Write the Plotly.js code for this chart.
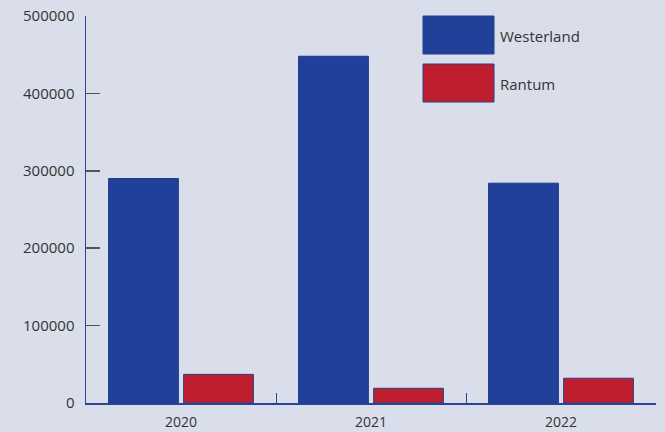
<!DOCTYPE html>
<html>
<head>
<meta charset="utf-8">
<script src="https://cdn.plot.ly/plotly-3.0.1.min.js"></script>
<style>
  html, body { margin: 0; padding: 0; background: #dadeeb; }
  #chart { width: 665px; height: 432px; }
</style>
</head>
<body>
<div id="chart"></div>
<script>
// Years on the x axis
const years = ['2020', '2021', '2022'];

// Series values
const westerland = [290000, 448000, 284000];
const rantum = [37000, 19000, 32000];

const seriesNames = ['Westerland', 'Rantum'];
const seriesColors = ['#21409a', '#be1e2d'];

const yTicks = [0, 100000, 200000, 300000, 400000, 500000];

const traces = [
    {
        type: 'bar',
        x: years,
        y: westerland,
        name: seriesNames[0],
        marker: { color: seriesColors[0], line: { color: '#1d3a8a', width: 1 } },
        showlegend: false
    },
    {
        type: 'bar',
        x: years,
        y: rantum,
        name: seriesNames[1],
        marker: { color: seriesColors[1], line: { color: '#2a3f8f', width: 1 } },
        showlegend: false
    }
];

// Legend drawn by hand: big swatches like the original
const shapes = [];
const annotations = [];
seriesNames.forEach((name, i) => {
    const top = 1 - i * 48 / 387;
    shapes.push({
        type: 'rect', xref: 'paper', yref: 'paper',
        x0: (423 - 86) / 570, x1: (494 - 86) / 570,
        y0: top - 38 / 387, y1: top,
        fillcolor: seriesColors[i],
        line: { color: '#2a3f8f', width: 1 }
    });
    annotations.push({
        xref: 'paper', yref: 'paper',
        x: (498 - 86) / 570, y: top - 20 / 387,
        xanchor: 'left', yanchor: 'middle',
        text: name, showarrow: false,
        font: { size: 15, color: '#333333' }
    });
});

const layout = {
    width: 665,
    height: 432,
    paper_bgcolor: '#dadeeb',
    plot_bgcolor: '#dadeeb',
    font: { family: '"Open Sans", Lato, sans-serif', size: 14, color: '#333333' },
    margin: { l: 86, r: 9, t: 16, b: 29 },
    barmode: 'group',
    bargap: 0.21,
    bargroupgap: 0.07,
    xaxis: {
        type: 'category',
        showline: true,
        linecolor: '#2a4595',
        linewidth: 1.5,
        ticks: 'inside',
        tickson: 'boundaries',
        ticklen: 10,
        tickcolor: '#2a4595',
        tickwidth: 1,
        showgrid: false,
        zeroline: false,
        ticklabelstandoff: 6,
        tickfont: { size: 14 }
    },
    yaxis: {
        range: [0, 500000],
        tickvals: yTicks,
        ticktext: yTicks.map(String),
        showline: true,
        linecolor: '#2a4595',
        linewidth: 1.5,
        ticks: 'inside',
        ticklen: 14,
        tickcolor: '#555555',
        tickwidth: 1.5,
        showgrid: false,
        zeroline: false,
        ticklabelstandoff: 7,
        tickfont: { size: 15 }
    },
    shapes: shapes,
    annotations: annotations
};

Plotly.newPlot('chart', traces, layout, { displayModeBar: false, staticPlot: true });
</script>
</body>
</html>
